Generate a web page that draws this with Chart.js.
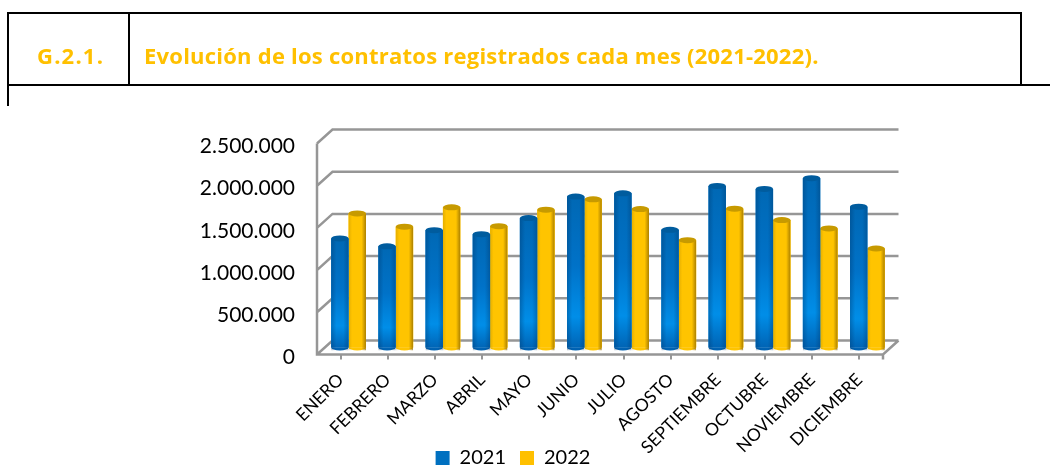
<!DOCTYPE html>
<html lang="es">
<head>
<meta charset="UTF-8">
<title>G.2.1. Evolución de los contratos registrados cada mes (2021-2022)</title>
<script src="https://cdn.jsdelivr.net/npm/chart.js"></script>
<style>
    html, body { margin: 0; padding: 0; background: #fff; overflow: hidden; }
    #page { position: relative; width: 1050px; height: 466px; }
    #chart { position: absolute; left: 0; top: 0; }
    .rule { position: absolute; background: #000; }
    .head { position: absolute; top: 40px; color: #ffc000; font: bold 22px "Open Sans", sans-serif; letter-spacing: 0.23px; white-space: nowrap; }
</style>
</head>
<body>
<div id="page">
    <canvas id="chart" width="1050" height="466"></canvas>
    <div class="rule" style="left:7px;top:12px;width:1015px;height:2px"></div>
    <div class="rule" style="left:7px;top:84px;width:1043px;height:2px"></div>
    <div class="rule" style="left:7px;top:12px;width:2px;height:94px"></div>
    <div class="rule" style="left:128px;top:12px;width:2px;height:74px"></div>
    <div class="rule" style="left:1020px;top:12px;width:2px;height:74px"></div>
    <div class="head" style="left:37px;letter-spacing:1.2px">G.2.1.</div>
    <div class="head" style="left:144px">Evolución de los contratos registrados cada mes (2021-2022).</div>
</div>
<script>
const months = ['ENERO', 'FEBRERO', 'MARZO', 'ABRIL', 'MAYO', 'JUNIO', 'JULIO', 'AGOSTO', 'SEPTIEMBRE', 'OCTUBRE', 'NOVIEMBRE', 'DICIEMBRE'];
const values2021 = [1292000, 1199000, 1390000, 1342000, 1533000, 1788000, 1827000, 1395000, 1914000, 1879000, 2006000, 1669000];
const values2022 = [1589000, 1432000, 1661000, 1438000, 1633000, 1756000, 1640000, 1271000, 1645000, 1510000, 1411000, 1173000];

// depth of the fake 3D box, bars stand half way in
const depthX = 15.5, depthY = 14;
const barShiftX = 8, barShiftY = 7;
const capRadius = 3;
const wallColor = '#969696';

const tone = (ctx, x0, y0, x1, y1, stops) => {
    const g = ctx.createLinearGradient(x0, y0, x1, y1);
    stops.forEach(([at, col]) => g.addColorStop(at, col));
    return g;
};

const box3d = {
    id: 'box3d',
    beforeDraw(chart) {
        // x labels are clipped to the scale box, the long ones reach past the legend top
        chart.scales.x.bottom = chart.height;
    },
    beforeDatasetsDraw(chart) {
        const { ctx, chartArea: { left, right, top, bottom }, scales: { y } } = chart;
        ctx.save();
        ctx.strokeStyle = wallColor;
        ctx.lineWidth = 2.5;
        ctx.beginPath();
        y.ticks.forEach(t => {
            const py = y.getPixelForValue(t.value);
            ctx.moveTo(left, py);
            ctx.lineTo(left + depthX, py - depthY);
            ctx.lineTo(right + depthX, py - depthY);
        });
        ctx.moveTo(left, top);
        ctx.lineTo(left, bottom);
        ctx.lineTo(right, bottom);
        ctx.lineTo(right + depthX, bottom - depthY);
        ctx.moveTo(right, bottom);
        ctx.lineTo(right, bottom + 5);
        ctx.stroke();
        ctx.restore();
    }
};

// shades the flat bars into cylinders
const cylinders = {
    id: 'cylinders',
    beforeDatasetDraw(chart) {
        chart.ctx.save();
        chart.ctx.translate(barShiftX, -barShiftY);
    },
    afterDatasetDraw(chart, args) {
        const ctx = chart.ctx;
        const blue = args.index === 0;
        chart.getDatasetMeta(args.index).data.forEach(bar => {
            const x0 = bar.x - bar.width / 2, x1 = bar.x + bar.width / 2;
            const h = bar.base - bar.y;
            const body = blue
                ? tone(ctx, 0, bar.y, 0, bar.base + capRadius, [[0, '#0068b4'], [0.45, '#0072c8'], [0.78, '#008ee8'], [1, '#0060b0']])
                : tone(ctx, 0, bar.y, 0, bar.base, [[0, '#ffc400'], [1, '#ffc400']]);
            ctx.fillStyle = body;
            ctx.fillRect(x0, bar.y, bar.width, h);
            ctx.beginPath();
            ctx.ellipse(bar.x, bar.base, bar.width / 2, capRadius, 0, 0, Math.PI);
            ctx.fill();
            ctx.save();
            ctx.beginPath();
            ctx.rect(x0, bar.y, bar.width, h + capRadius);
            ctx.clip();
            ctx.fillStyle = blue
                ? tone(ctx, x0, 0, x1, 0, [[0, 'rgba(0,50,100,.35)'], [0.3, 'rgba(0,50,100,0)'], [0.7, 'rgba(0,50,100,0)'], [1, 'rgba(0,50,100,.35)']])
                : tone(ctx, x0, 0, x1, 0, [[0, 'rgba(150,110,0,.25)'], [0.2, 'rgba(150,110,0,0)'], [0.75, 'rgba(150,110,0,0)'], [1, 'rgba(150,110,0,.8)']]);
            ctx.fillRect(x0, bar.y, bar.width, h + capRadius);
            ctx.restore();
            ctx.fillStyle = blue ? '#005c9e' : '#c79a00';
            ctx.beginPath();
            ctx.ellipse(bar.x, bar.y, bar.width / 2, capRadius, 0, 0, Math.PI * 2);
            ctx.fill();
        });
        ctx.restore();
    }
};

new Chart(document.getElementById('chart'), {
    type: 'bar',
    data: {
        labels: months,
        datasets: [
            { label: '2021', data: values2021, backgroundColor: '#0070c0', clip: false },
            { label: '2022', data: values2022, backgroundColor: '#ffc000', clip: false }
        ]
    },
    options: {
        responsive: false,
        animation: false,
        barPercentage: 1,
        categoryPercentage: 0.738,
        layout: { padding: { left: 143, right: 167, top: 143.5, bottom: -12 } },
        plugins: {
            title: { display: false },
            tooltip: { enabled: false },
            legend: {
                position: 'bottom',
                labels: {
                    boxWidth: 14, boxHeight: 14, padding: 14, color: '#000',
                    font: { family: 'Lato', size: 20 }
                }
            }
        },
        scales: {
            x: {
                afterFit: s => { s.height = 79.5; },
                grid: { offset: false, drawOnChartArea: false, drawTicks: true, tickLength: 5, color: wallColor, lineWidth: 2 },
                border: { display: false },
                ticks: { minRotation: 45, maxRotation: 45, autoSkip: false, padding: 10, color: '#000', font: { family: 'Lato', size: 17.5 } }
            },
            y: {
                min: 0,
                max: 2500000,
                afterFit: s => { s.width = 174; },
                grid: { display: false },
                border: { display: false },
                ticks: {
                    stepSize: 500000,
                    padding: 14,
                    labelOffset: 3,
                    color: '#000',
                    font: { family: 'Lato', size: 21 },
                    callback: v => v.toLocaleString('de-DE')
                }
            }
        }
    },
    plugins: [box3d, cylinders]
});
</script>
</body>
</html>
